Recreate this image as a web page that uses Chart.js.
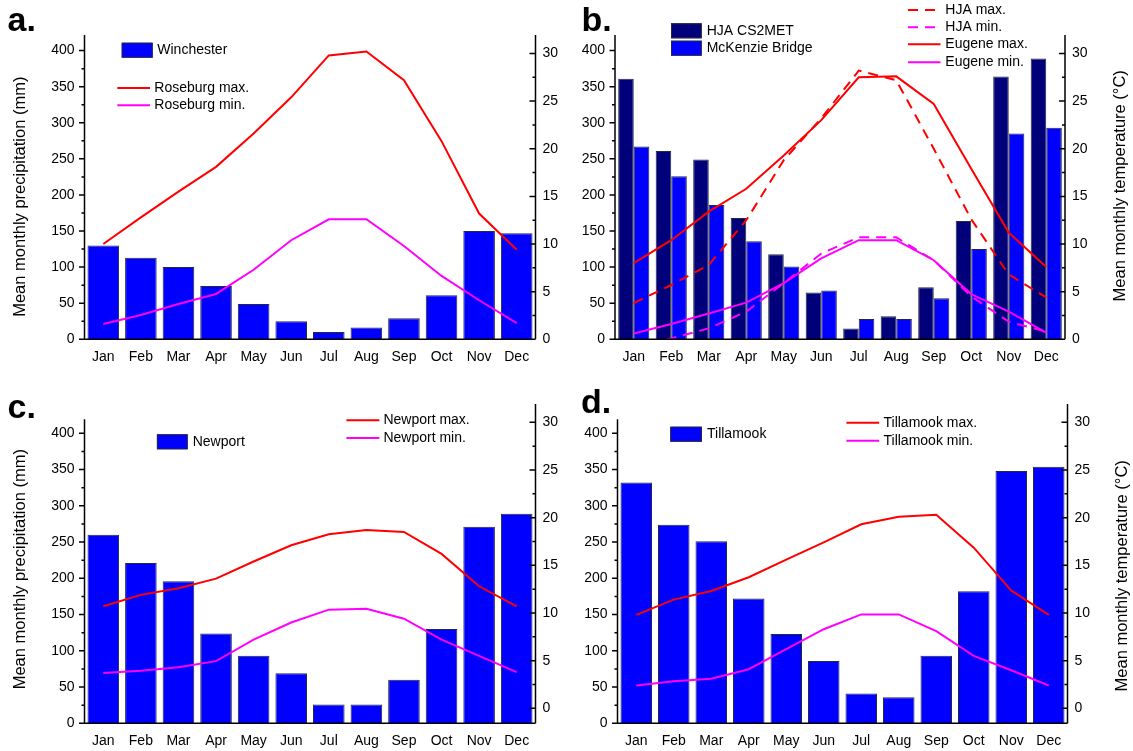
<!DOCTYPE html>
<html>
<head>
<meta charset="utf-8">
<script src="https://cdn.jsdelivr.net/npm/chart.js@4.4.0/dist/chart.umd.min.js"></script>
<style>
  html, body { margin: 0; padding: 0; background: #fff; }
  #wrap { position: relative; width: 1133px; height: 751px; }
  canvas { position: absolute; }
</style>
</head>
<body>
<div id="wrap">
  <canvas id="ca" width="566" height="375" style="left:0;top:0"></canvas>
  <canvas id="cb" width="567" height="375" style="left:566px;top:0"></canvas>
  <canvas id="cc" width="566" height="376" style="left:0;top:375px"></canvas>
  <canvas id="cd" width="567" height="376" style="left:566px;top:375px"></canvas>
</div>
<script>
const months = ["Jan", "Feb", "Mar", "Apr", "May", "Jun", "Jul", "Aug", "Sep", "Oct", "Nov", "Dec"];
const precipTicks = [0, 50, 100, 150, 200, 250, 300, 350, 400];
const tempTicks = [0, 5, 10, 15, 20, 25, 30];

// a. Winchester / Roseburg
const winchesterPrecip = [130, 113, 100, 74, 49, 25, 10, 16.5, 29, 61, 150, 147];
const roseburgMax = [10.0, 12.8, 15.5, 18.1, 21.6, 25.4, 29.8, 30.2, 27.2, 20.8, 13.2, 9.4];
const roseburgMin = [1.6, 2.55, 3.7, 4.76, 7.3, 10.4, 12.6, 12.6, 9.8, 6.65, 4.1, 1.7];

// b. HJA / McKenzie Bridge / Eugene
const hjaPrecip = [361, 261, 249, 168, 118, 65, 15, 32, 72, 164, 364, 389];
const mckenziePrecip = [267, 226, 186, 136, 101, 67.5, 28, 28, 57, 125, 285, 293];
const hjaMax = [3.8, 5.7, 7.8, 12.5, 18.8, 23.2, 28.2, 27.2, 20.0, 12.6, 6.8, 4.4];
const hjaMin = [-1.0, 0.1, 1.15, 2.9, 5.9, 9.0, 10.7, 10.7, 8.3, 4.5, 1.85, 0.8];
const eugeneMax = [8.0, 10.4, 13.4, 15.8, 19.3, 23.0, 27.5, 27.6, 24.7, 17.9, 11.2, 7.6];
const eugeneMin = [0.6, 1.6, 2.7, 3.85, 5.9, 8.5, 10.4, 10.4, 8.3, 4.75, 2.9, 0.7];

// c. Newport
const newportPrecip = [260, 221, 196, 124, 93, 69, 26, 26, 60, 130, 271, 289];
const newportMax = [10.7, 11.9, 12.6, 13.6, 15.4, 17.1, 18.25, 18.7, 18.5, 16.2, 12.8, 10.7];
const newportMin = [3.7, 3.95, 4.3, 4.95, 7.2, 9.0, 10.35, 10.45, 9.4, 7.2, 5.5, 3.8];

// d. Tillamook
const tillamookPrecip = [332, 274, 251, 172, 123, 86, 41, 36, 93, 182, 348, 354];
const tillamookMax = [9.8, 11.4, 12.3, 13.75, 15.6, 17.4, 19.3, 20.1, 20.3, 16.85, 12.35, 9.8];
const tillamookMin = [2.4, 2.85, 3.1, 4.1, 6.2, 8.3, 9.85, 9.85, 8.1, 5.5, 4.0, 2.4];

const BLUE = "#0000ff", NAVY = "#00007a", RED = "#ff0000", MAG = "#ff00ff";
const FONT = "'Liberation Sans', Arial, sans-serif";
const DASH = [10, 7];

Chart.defaults.font.family = FONT;
Chart.defaults.font.size = 14;
Chart.defaults.color = "#000";

function barSet(label, data, color) {
  return { type: "bar", label, data, backgroundColor: color, borderColor: "#262640",
           borderWidth: 1, yAxisID: "y", order: 1 };
}
function lineSet(label, data, color, dash) {
  return { type: "line", label, data, borderColor: color, borderWidth: 2, borderDash: dash || [],
           pointRadius: 0, tension: 0, fill: false, yAxisID: "y2", order: 0 };
}

// draws axis lines, minor ticks, legends, letters and axis titles
function decor(p) {
  return {
    id: "decor",
    afterDatasetsDraw(chart) {
      const ctx = chart.ctx, a = chart.chartArea;
      const y = chart.scales.y, y2 = chart.scales.y2;
      const leftTopPx = y.getPixelForValue(p.leftTop);
      ctx.save();
      ctx.strokeStyle = "#000";
      ctx.lineWidth = 1.5;
      ctx.beginPath();
      ctx.moveTo(a.left, leftTopPx); ctx.lineTo(a.left, a.bottom); ctx.lineTo(a.right, a.bottom);
      ctx.moveTo(a.right, a.top); ctx.lineTo(a.right, a.bottom);
      for (let v = 0; v <= 450; v += 25) {
        const py = y.getPixelForValue(v);
        if (py < leftTopPx - 0.5) break;
        const len = v % 50 ? 3 : 5.5;
        ctx.moveTo(a.left - len, py); ctx.lineTo(a.left, py);
      }
      for (let v = 0; v <= 35; v += 2.5) {
        const py = y2.getPixelForValue(v);
        if (py < a.top) break;
        const len = v % 5 ? 3 : 6;
        ctx.moveTo(a.right - len, py); ctx.lineTo(a.right, py);
      }
      ctx.stroke();
      ctx.restore();
    },
    afterDraw(chart) {
      const ctx = chart.ctx;
      const ox = p.ox, oy = p.oy;
      ctx.save();
      ctx.fillStyle = "#000";
      ctx.font = "bold 34px " + FONT;
      ctx.textBaseline = "alphabetic";
      ctx.textAlign = "left";
      ctx.fillText(p.letter[0], p.letter[1] - ox, p.letter[2] - oy);

      ctx.font = "14px " + FONT;
      ctx.textBaseline = "middle";
      p.legendBars.forEach(l => {
        ctx.fillStyle = l.color;
        ctx.fillRect(l.x - ox, l.y - oy, l.w, l.h);
        ctx.strokeStyle = "#262640";
        ctx.lineWidth = 1;
        ctx.strokeRect(l.x - ox + 0.5, l.y - oy + 0.5, l.w - 1, l.h - 1);
        ctx.fillStyle = "#000";
        ctx.fillText(l.label, l.tx - ox, l.ty - oy);
      });
      p.legendLines.forEach(l => {
        ctx.strokeStyle = l.color;
        ctx.lineWidth = 2;
        ctx.setLineDash(l.dash || []);
        ctx.beginPath();
        ctx.moveTo(l.x1 - ox, l.y - oy); ctx.lineTo(l.x2 - ox, l.y - oy);
        ctx.stroke();
        ctx.setLineDash([]);
        ctx.fillStyle = "#000";
        ctx.fillText(l.label, l.tx - ox, l.y - oy);
      });

      ctx.font = "16.5px " + FONT;
      ctx.textAlign = "center";
      ctx.textBaseline = "alphabetic";
      p.titles.forEach(t => {
        ctx.save();
        ctx.translate(t.x - ox, t.y - oy);
        ctx.rotate(-Math.PI / 2);
        ctx.fillText(t.text, 0, 0);
        ctx.restore();
      });
      ctx.restore();
    }
  };
}

function makePanel(p) {
  new Chart(document.getElementById(p.id), {
    type: "bar",
    data: { labels: months, datasets: p.datasets },
    options: {
      responsive: false,
      animation: false,
      events: [],
      layout: { padding: { top: p.T - p.oy, left: 0, right: 0, bottom: 0 } },
      datasets: { bar: { categoryPercentage: p.catPct, barPercentage: p.barPct } },
      plugins: { legend: { display: false }, tooltip: { enabled: false } },
      scales: {
        x: {
          offset: true,
          grid: { display: false, drawTicks: false },
          border: { display: false },
          ticks: { padding: 9, maxRotation: 0, autoSkip: false },
          afterFit: s => { s.height = p.oy + p.h - p.B; }
        },
        y: {
          position: "left", min: 0, max: p.yMax,
          grid: { display: false, drawTicks: false },
          border: { display: false },
          ticks: { padding: 10 },
          afterBuildTicks: s => { s.ticks = precipTicks.map(v => ({ value: v })); },
          afterFit: s => { s.width = p.L - p.ox; }
        },
        y2: {
          position: "right", min: p.tMin, max: p.tMax,
          grid: { display: false, drawTicks: false },
          border: { display: false },
          ticks: { padding: 7 },
          afterBuildTicks: s => { s.ticks = tempTicks.map(v => ({ value: v })); },
          afterFit: s => { s.width = p.ox + p.w - p.R; }
        }
      }
    },
    plugins: [decor(p)]
  });
}

const precipTitle = "Mean monthly precipitation (mm)";
const tempTitle = "Mean monthly temperature (\u00B0C)";

makePanel({
  id: "ca", ox: 0, oy: 0, w: 566, h: 375, L: 84.5, R: 535.5, T: 35, B: 339.3,
  yMax: 421.6, tMin: 0, tMax: 31.94, leftTop: 421.6, catPct: 1, barPct: 0.84,
  letter: ["a.", 7.5, 30.7],
  datasets: [
    barSet("Winchester", winchesterPrecip, BLUE),
    lineSet("Roseburg max.", roseburgMax, RED),
    lineSet("Roseburg min.", roseburgMin, MAG)
  ],
  legendBars: [{ label: "Winchester", color: BLUE, x: 121.7, y: 42.7, w: 31, h: 15, tx: 157.3, ty: 50.2 }],
  legendLines: [
    { label: "Roseburg max.", color: RED, x1: 117.3, x2: 150, y: 88, tx: 154.3 },
    { label: "Roseburg min.", color: MAG, x1: 117.3, x2: 150, y: 105.3, tx: 154.3 }
  ],
  titles: [{ text: precipTitle, x: 25.4, y: 196.7 }]
});

makePanel({
  id: "cb", ox: 566, oy: 0, w: 567, h: 375, L: 615, R: 1065, T: 35, B: 339.3,
  yMax: 421.6, tMin: 0, tMax: 31.94, leftTop: 421.6, catPct: 0.83, barPct: 1,
  letter: ["b.", 581.5, 30.7],
  datasets: [
    barSet("HJA CS2MET", hjaPrecip, NAVY),
    barSet("McKenzie Bridge", mckenziePrecip, BLUE),
    lineSet("HJA max.", hjaMax, RED, DASH),
    lineSet("HJA min.", hjaMin, MAG, DASH),
    lineSet("Eugene max.", eugeneMax, RED),
    lineSet("Eugene min.", eugeneMin, MAG)
  ],
  legendBars: [
    { label: "HJA CS2MET", color: NAVY, x: 671, y: 23.3, w: 30.7, h: 15, tx: 706.7, ty: 31 },
    { label: "McKenzie Bridge", color: BLUE, x: 671, y: 40.7, w: 30.7, h: 15, tx: 706.7, ty: 48.5 }
  ],
  legendLines: [
    { label: "HJA max.", color: RED, dash: DASH, x1: 908, x2: 940.5, y: 10, tx: 945.3 },
    { label: "HJA min.", color: MAG, dash: DASH, x1: 908, x2: 940.5, y: 27.3, tx: 945.3 },
    { label: "Eugene max.", color: RED, x1: 908, x2: 940.5, y: 44.3, tx: 945.3 },
    { label: "Eugene min.", color: MAG, x1: 908, x2: 940.5, y: 62.3, tx: 945.3 }
  ],
  titles: [{ text: tempTitle, x: 1125, y: 185.8 }]
});

makePanel({
  id: "cc", ox: 0, oy: 375, w: 566, h: 376, L: 84.5, R: 535.5, T: 404, B: 723.3,
  yMax: 440.4, tMin: -1.57, tMax: 31.92, leftTop: 419.3, catPct: 1, barPct: 0.84,
  letter: ["c.", 7.5, 418.3],
  datasets: [
    barSet("Newport", newportPrecip, BLUE),
    lineSet("Newport max.", newportMax, RED),
    lineSet("Newport min.", newportMin, MAG)
  ],
  legendBars: [{ label: "Newport", color: BLUE, x: 156.9, y: 434.3, w: 30.8, h: 15, tx: 192.7, ty: 442 }],
  legendLines: [
    { label: "Newport max.", color: RED, x1: 346.4, x2: 379.4, y: 420.3, tx: 383.4 },
    { label: "Newport min.", color: MAG, x1: 346.4, x2: 379.4, y: 438, tx: 383.4 }
  ],
  titles: [{ text: precipTitle, x: 25.4, y: 569.2 }]
});

makePanel({
  id: "cd", ox: 566, oy: 375, w: 567, h: 376, L: 617.5, R: 1067.5, T: 404, B: 723.3,
  yMax: 440.4, tMin: -1.57, tMax: 31.92, leftTop: 419.3, catPct: 1, barPct: 0.84,
  letter: ["d.", 581, 413.3],
  datasets: [
    barSet("Tillamook", tillamookPrecip, BLUE),
    lineSet("Tillamook max.", tillamookMax, RED),
    lineSet("Tillamook min.", tillamookMin, MAG)
  ],
  legendBars: [{ label: "Tillamook", color: BLUE, x: 670.3, y: 426.7, w: 31.6, h: 15, tx: 707, ty: 434.3 }],
  legendLines: [
    { label: "Tillamook max.", color: RED, x1: 846.4, x2: 879.1, y: 422.7, tx: 883.5 },
    { label: "Tillamook min.", color: MAG, x1: 846.4, x2: 879.1, y: 440.7, tx: 883.5 }
  ],
  titles: [{ text: tempTitle, x: 1127, y: 575.8 }]
});
</script>
</body>
</html>
